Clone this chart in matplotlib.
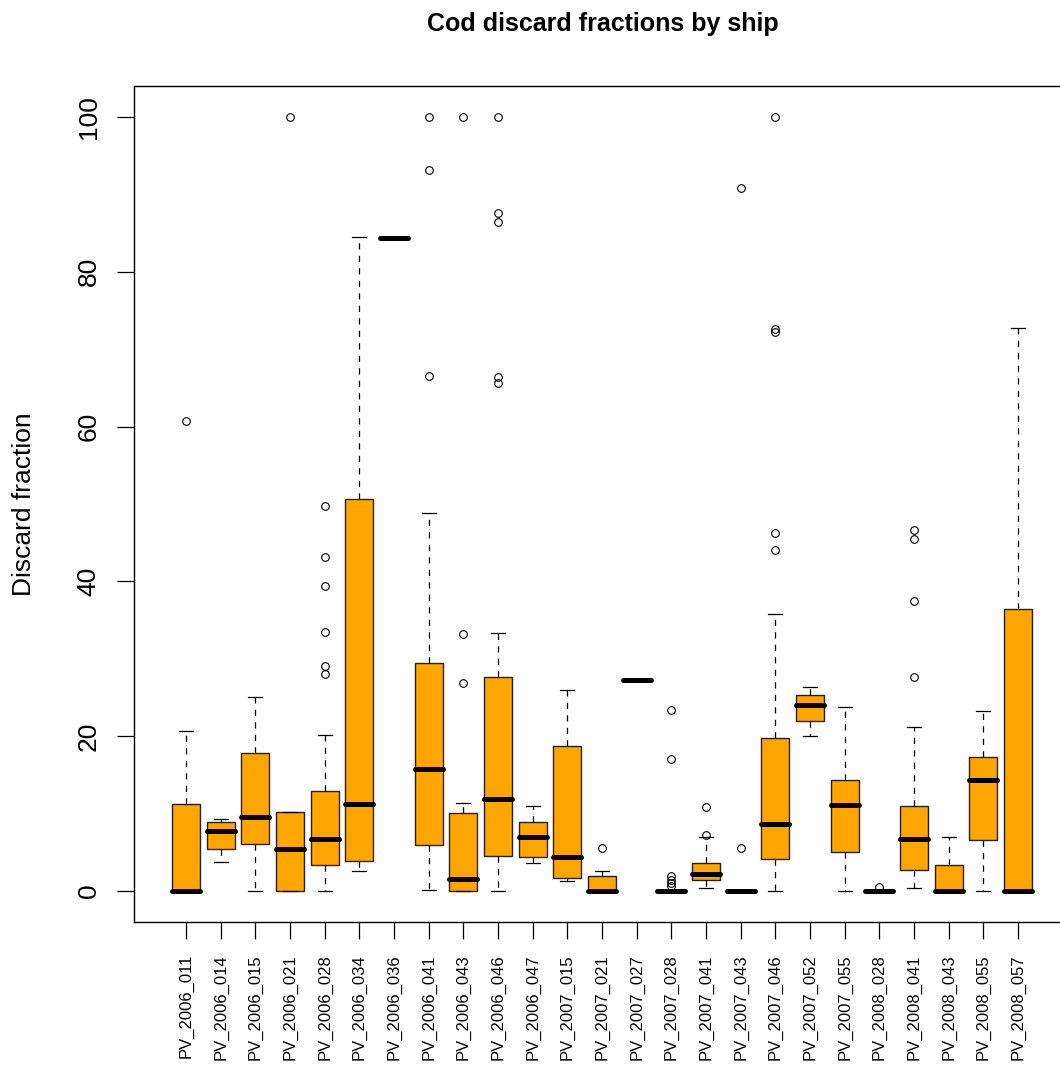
import matplotlib
matplotlib.use("Agg")
import matplotlib.pyplot as plt

plt.rcParams['font.family'] = ['Liberation Sans', 'DejaVu Sans']

ships = ["PV_2006_011", "PV_2006_014", "PV_2006_015", "PV_2006_021", "PV_2006_028",
         "PV_2006_034", "PV_2006_036", "PV_2006_041", "PV_2006_043", "PV_2006_046",
         "PV_2006_047", "PV_2007_015", "PV_2007_021", "PV_2007_027", "PV_2007_028",
         "PV_2007_041", "PV_2007_043", "PV_2007_046", "PV_2007_052", "PV_2007_055",
         "PV_2008_028", "PV_2008_041", "PV_2008_043", "PV_2008_055", "PV_2008_057"]

whislo = [0, 3.7, 0, 0, 0, 2.6, 84.4, 0.1, 0, 0,
          3.66, 1.32, 0, 27.3, 0, 0.4, 0, 0, 20.0, 0,
          0, 0.35, 0, 0, 0]
q1 = [0, 5.37, 6.06, 0, 3.35, 3.9, 84.4, 5.9, 0, 4.53,
      4.38, 1.63, 0, 27.3, 0, 1.47, 0, 4.18, 22.0, 5.1,
      0, 2.75, 0, 6.57, 0]
med = [0, 7.8, 9.6, 5.4, 6.7, 11.2, 84.4, 15.8, 1.52, 11.87,
       6.98, 4.38, 0, 27.3, 0, 2.23, 0, 8.6, 24.05, 11.16,
       0, 6.77, 0, 14.4, 0]
q3 = [11.2, 8.86, 17.8, 10.15, 12.86, 50.7, 84.4, 29.4, 10.04, 27.7,
      8.9, 18.75, 1.99, 27.3, 0, 3.6, 0, 19.8, 25.3, 14.4,
      0, 10.95, 3.4, 17.3, 36.4]
whishi = [20.7, 9.37, 25.1, 10.15, 20.1, 84.5, 84.4, 48.9, 11.4, 33.3,
          10.95, 26.0, 2.54, 27.3, 0, 6.93, 0, 35.8, 26.4, 23.8,
          0, 21.2, 6.93, 23.3, 72.7]
outliers = [[60.7], [], [], [100], [49.8, 43.2, 39.4, 33.4, 29.1, 28.1],
            [], [], [100, 93.1, 66.5], [100, 33.2, 26.9], [100, 87.6, 86.4, 66.4, 65.6],
            [], [], [5.55], [], [23.4, 17.0, 1.9, 1.4, 1.0, 0.7],
            [10.85, 7.28], [90.8, 5.55], [100, 72.6, 72.2, 46.3, 44.1], [], [],
            [0.47], [46.7, 45.5, 37.5, 27.7], [], [], []]

yticks = [0, 20, 40, 60, 80, 100]

stats = []
for i, name in enumerate(ships):
    stats.append(dict(label=name, whislo=whislo[i], q1=q1[i], med=med[i],
                      q3=q3[i], whishi=whishi[i], fliers=outliers[i]))

fig = plt.figure(figsize=(10.6, 10.7), dpi=100)
ax = fig.add_axes([134 / 1060, 148 / 1070, 936 / 1060, 836 / 1070])

positions = list(range(1, len(ships) + 1))
ax.bxp(stats, positions=positions, widths=0.8, capwidths=0.4, patch_artist=True,
       boxprops=dict(facecolor='#FFA500', edgecolor='#222222', linewidth=1.0),
       medianprops=dict(color='black', linewidth=3.6, solid_capstyle='round'),
       whiskerprops=dict(color='black', linewidth=0.9, linestyle=(0, (5, 5))),
       capprops=dict(color='black', linewidth=0.9),
       flierprops=dict(marker='o', markerfacecolor='none', markeredgecolor='black',
                       markersize=5.5, markeredgewidth=0.8, linestyle='none'))

ax.set_xlim(-0.5, 26.5)
ax.set_ylim(-4, 104)
ax.set_xticks(positions)
ax.set_xticklabels(ships, rotation=90, fontsize=12, va='top', ha='center')
ax.set_yticks(yticks)
ax.set_yticklabels([str(v) for v in yticks], rotation=90, va='center', fontsize=19)
ax.tick_params(axis='both', length=12, width=0.9, direction='out')
ax.tick_params(axis='x', pad=11)
ax.tick_params(axis='y', pad=12)
for s in ax.spines.values():
    s.set_linewidth(1.0)

ax.set_ylabel("Discard fraction", fontsize=19)
ax.yaxis.set_label_coords(-110 / 936, 0.5)
ax.yaxis.label.set_va('center')

fig.text(603 / 1060, 1 - 31 / 1070, "Cod discard fractions by ship",
         ha='center', va='baseline', fontsize=18, fontweight='bold')

fig.savefig("out.png", dpi=100)
